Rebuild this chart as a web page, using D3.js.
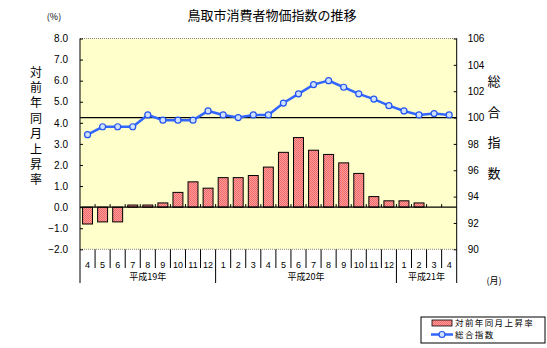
<!DOCTYPE html>
<html>
<head>
<meta charset="utf-8">
<script src="https://cdn.jsdelivr.net/npm/d3@7"></script>
<style>
  html, body { margin: 0; padding: 0; background: #fff; }
  svg { display: block; }
  text { font-family: "Liberation Sans", Arial, sans-serif; }
  .jp { font-family: "Noto Sans CJK JP", sans-serif; }
</style>
</head>
<body>
<div id="chart"></div>
<script>
// 月（平成19年4月〜平成21年4月）
const months = ["4","5","6","7","8","9","10","11","12","1","2","3","4","5","6","7","8","9","10","11","12","1","2","3","4"];
// 年の区切り：開始位置と件数
const yearGroups = [
  { label: "平成19年", start: 0, count: 9 },
  { label: "平成20年", start: 9, count: 12 },
  { label: "平成21年", start: 21, count: 4 }
];
// 対前年同月上昇率（％）
const changeRate = [-0.8, -0.7, -0.7, 0.1, 0.1, 0.2, 0.0, 0.7, 1.2, 0.9, 1.4, 1.4, 1.5, 1.9, 2.6, 3.3, 2.7, 2.5, 2.1, 1.6, 0.5, 0.3, 0.3, 0.2, 0.0];
// 総合指数
const indexValues = [98.7, 99.3, 99.3, 99.3, 100.2, 99.8, 99.8, 99.8, 100.5, 100.2, 100.0, 100.2, 100.2, 101.1, 101.8, 102.5, 102.8, 102.3, 101.8, 101.4, 100.9, 100.5, 100.2, 100.3, 100.2];
const leftTicks = [-2, -1, 0, 1, 2, 3, 4, 5, 6, 7, 8];
const rightTicks = [90, 92, 94, 96, 98, 100, 102, 104, 106];

const W = 547, H = 348;
const plot = { left: 80, right: 456.7, top: 38.5, bottom: 249.3 };

const svg = d3.select("#chart").append("svg").attr("width", W).attr("height", H);

// 棒グラフ用の網掛け模様
const defs = svg.append("defs");
const pat = defs.append("pattern").attr("id", "hatch")
  .attr("width", 2).attr("height", 2).attr("patternUnits", "userSpaceOnUse");
pat.append("rect").attr("width", 2).attr("height", 2).attr("fill", "#ff9c9c");
pat.append("rect").attr("width", 1).attr("height", 1).attr("fill", "#f06868");
pat.append("rect").attr("x", 1).attr("y", 1).attr("width", 1).attr("height", 1).attr("fill", "#f06868");

const x = d3.scaleBand().domain(d3.range(months.length))
  .range([plot.left, plot.right]).paddingInner(0.34).paddingOuter(0.17);
const step = (plot.right - plot.left) / months.length;
const yL = d3.scaleLinear().domain([-2, 8]).range([plot.bottom, plot.top]);
const yR = d3.scaleLinear().domain([90, 106]).range([plot.bottom, plot.top]);

// 描画領域の背景
svg.append("rect")
  .attr("x", plot.left).attr("y", plot.top)
  .attr("width", plot.right - plot.left).attr("height", plot.bottom - plot.top)
  .attr("fill", "#ffffcc");

// 上下の点線枠
[plot.top, plot.bottom].forEach(yy => {
  svg.append("line")
    .attr("x1", plot.left).attr("x2", plot.right).attr("y1", yy).attr("y2", yy)
    .attr("stroke", "#888").attr("stroke-width", 1).attr("stroke-dasharray", "1,1");
});

// 棒（対前年同月上昇率）
svg.append("g").selectAll("rect").data(changeRate).join("rect")
  .filter(d => d !== 0)
  .attr("x", (d, i) => x(i))
  .attr("y", d => Math.min(yL(d), yL(0)))
  .attr("width", x.bandwidth())
  .attr("height", d => Math.abs(yL(d) - yL(0)))
  .attr("fill", "url(#hatch)")
  .attr("stroke", "#000").attr("stroke-width", 1);

// 0% の線と区切り目盛
svg.append("line")
  .attr("x1", plot.left).attr("x2", plot.right)
  .attr("y1", yL(0)).attr("y2", yL(0))
  .attr("stroke", "#000").attr("stroke-width", 1.2);
svg.append("g").selectAll("line").data(d3.range(1, months.length)).join("line")
  .attr("x1", i => plot.left + i * step).attr("x2", i => plot.left + i * step)
  .attr("y1", yL(0)).attr("y2", yL(0) - 3)
  .attr("stroke", "#000");

// 指数 100 の基準線
svg.append("line")
  .attr("x1", plot.left).attr("x2", plot.right)
  .attr("y1", yR(100)).attr("y2", yR(100))
  .attr("stroke", "#000").attr("stroke-width", 1.2);

// 折れ線（総合指数）
const cx = i => x(i) + x.bandwidth() / 2;
svg.append("path").datum(indexValues)
  .attr("d", d3.line().x((d, i) => cx(i)).y(d => yR(d)))
  .attr("fill", "none").attr("stroke", "#3366ff").attr("stroke-width", 2.5);
svg.append("g").selectAll("circle").data(indexValues).join("circle")
  .attr("cx", (d, i) => cx(i)).attr("cy", d => yR(d)).attr("r", 3)
  .attr("fill", "#cfe0ff").attr("stroke", "#2255ee").attr("stroke-width", 1.2);

// 左軸
const leftAxis = d3.axisLeft(yL).tickValues(leftTicks).tickSize(-3).tickPadding(12)
  .tickFormat(d3.format(".1f"));
const gL = svg.append("g").attr("transform", `translate(${plot.left},0)`).call(leftAxis);
gL.select(".domain").remove();
gL.selectAll("text").attr("font-size", 10).attr("fill", "#000")
  .text(d => d3.format(".1f")(d).replace("-", "−"));
gL.selectAll("line").attr("stroke", "#000");

// 右軸
const rightAxis = d3.axisRight(yR).tickValues(rightTicks).tickSize(-3).tickPadding(11);
const gR = svg.append("g").attr("transform", `translate(${plot.right},0)`).call(rightAxis);
gR.select(".domain").remove();
gR.selectAll("text").attr("font-size", 10).attr("fill", "#000");
gR.selectAll("line").attr("stroke", "#000");

// 左右の軸線（下の区切りまで延長）
[plot.left, plot.right].forEach(xx => {
  svg.append("line").attr("x1", xx).attr("x2", xx)
    .attr("y1", plot.top).attr("y2", 283).attr("stroke", "#000");
});

// 月の区切り線と月ラベル
svg.append("g").selectAll("line").data(d3.range(1, months.length)).join("line")
  .attr("x1", i => plot.left + i * step).attr("x2", i => plot.left + i * step)
  .attr("y1", plot.bottom).attr("y2", 268)
  .attr("stroke", "#000");
svg.append("g").selectAll("text").data(months).join("text")
  .attr("x", (d, i) => plot.left + (i + 0.5) * step).attr("y", 268)
  .attr("text-anchor", "middle").attr("font-size", 9)
  .text(d => d);

// 年の区切りと年ラベル
svg.append("g").selectAll("line").data(yearGroups.slice(1)).join("line")
  .attr("x1", g => plot.left + g.start * step).attr("x2", g => plot.left + g.start * step)
  .attr("y1", 268).attr("y2", 283).attr("stroke", "#000");
svg.append("g").selectAll("text").data(yearGroups).join("text")
  .attr("class", "jp")
  .attr("x", g => plot.left + (g.start + g.count / 2) * step).attr("y", 280)
  .attr("text-anchor", "middle").attr("font-size", 9)
  .text(g => g.label);

// タイトル・軸見出し
svg.append("text").attr("class", "jp").attr("x", 272).attr("y", 20)
  .attr("text-anchor", "middle").attr("font-size", 13).text("鳥取市消費者物価指数の推移");
svg.append("text").attr("class", "jp").attr("x", 54).attr("y", 20)
  .attr("text-anchor", "middle").attr("font-size", 9).text("(%)");
svg.append("text").attr("class", "jp").attr("x", 494).attr("y", 284)
  .attr("text-anchor", "middle").attr("font-size", 9).text("(月)");

// 縦書きの軸見出し
svg.append("text").attr("class", "jp")
  .attr("x", 36).attr("y", 66)
  .attr("writing-mode", "tb").attr("font-size", 12).attr("letter-spacing", 3.4)
  .text("対前年同月上昇率");
svg.append("text").attr("class", "jp")
  .attr("x", 494).attr("y", 75)
  .attr("writing-mode", "tb").attr("font-size", 13).attr("letter-spacing", 17.4)
  .text("総合指数");

// 凡例
const lg = svg.append("g");
lg.append("rect").attr("x", 421).attr("y", 317).attr("width", 124).attr("height", 26)
  .attr("fill", "#fff").attr("stroke", "#000");
lg.append("rect").attr("x", 432).attr("y", 320).attr("width", 20).attr("height", 6)
  .attr("fill", "url(#hatch)").attr("stroke", "#000").attr("stroke-width", 0.8);
lg.append("text").attr("class", "jp").attr("x", 455).attr("y", 326)
  .attr("font-size", 8.5).attr("letter-spacing", 1.4).text("対前年同月上昇率");
lg.append("line").attr("x1", 431).attr("x2", 453).attr("y1", 334.5).attr("y2", 334.5)
  .attr("stroke", "#3366ff").attr("stroke-width", 2.5);
lg.append("circle").attr("cx", 442).attr("cy", 334.5).attr("r", 3)
  .attr("fill", "#cfe0ff").attr("stroke", "#2255ee").attr("stroke-width", 1.2);
lg.append("text").attr("class", "jp").attr("x", 455).attr("y", 338)
  .attr("font-size", 8.5).attr("letter-spacing", 1.4).text("総合指数");
</script>
</body>
</html>
